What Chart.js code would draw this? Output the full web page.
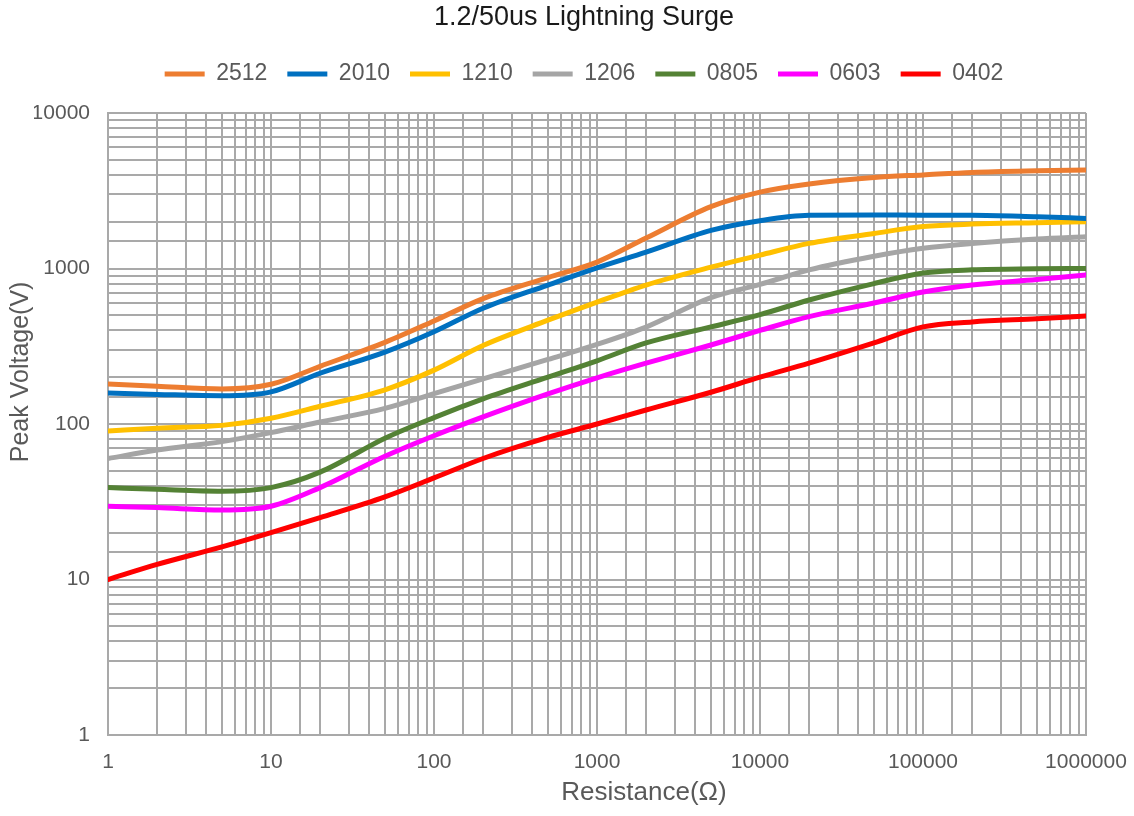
<!DOCTYPE html>
<html><head><meta charset="utf-8">
<script src="https://cdn.jsdelivr.net/npm/chart.js@4.4.1/dist/chart.umd.min.js"></script>
<style>html,body{margin:0;padding:0;background:#fff}</style>
</head><body>
<canvas id="c" width="1134" height="816"></canvas>
<script>
const chartTitle = '1.2/50us Lightning Surge';
const xTitle = 'Resistance(Ω)';
const yTitle = 'Peak Voltage(V)';
const resistance = [1,2,5,10,20,50,100,200,500,1000,2000,5000,10000,20000,50000,100000,200000,500000,1000000];
const seriesNames = ['2512','2010','1210','1206','0805','0603','0402'];
const seriesColors = ['#ED7D31','#0070C0','#FFC000','#A5A5A5','#548235','#FF00FF','#FF0000'];
const v2512 = [181,175,168,180,235,335,460,640,875,1100,1570,2500,3100,3500,3850,4000,4150,4250,4300];
const v2010 = [158,155,152,161,212,290,392,555,783,1010,1275,1760,2030,2200,2210,2200,2200,2150,2100];
const v1210 = [90,94,98,109,130,166,222,320,465,608,783,1020,1220,1450,1680,1860,1930,1970,2000];
const v1206 = [60,68,77,88,103,126,157,195,260,325,420,650,790,980,1200,1350,1450,1550,1600];
const v0805 = [39,38,37,39,49,81,110,145,200,255,332,421,505,627,800,935,980,995,1000];
const v0603 = [29.6,29,28,29.6,39,62,84,111,156,198,246,322,400,490,600,706,783,850,910];
const v0402 = [10,12.5,16.2,20,25,34,45,60,82,100,123,160,200,246,332,421,453,475,495];
const xMin = 1, xMax = 1000000, yMin = 1, yMax = 10000;

const allValues = [v2512,v2010,v1210,v1206,v0805,v0603,v0402];
const FONT = "'Liberation Sans', Arial, sans-serif";
const GRID = '#a9a9a9';
const isPow10 = v => Math.abs(Math.log10(v) - Math.round(Math.log10(v))) < 1e-9;

const datasets = seriesNames.map((name, i) => ({
  label: name,
  data: resistance.map((x, j) => ({x: x, y: allValues[i][j]})),
  borderColor: seriesColors[i],
  backgroundColor: seriesColors[i],
  borderWidth: 5,
  borderCapStyle: 'round',
  pointRadius: 0,
  pointHoverRadius: 0,
  cubicInterpolationMode: 'monotone',
  fill: false,
  clip: 0
}));

new Chart(document.getElementById('c'), {
  type: 'line',
  data: { datasets },
  options: {
    responsive: false,
    animation: false,
    layout: { padding: { left: 34, right: 0, top: 0, bottom: 0 } },
    plugins: {
      title: {
        display: true, text: chartTitle, color: '#1a1a1a',
        font: { family: FONT, size: 27, weight: 'normal' },
        padding: { top: 1.8, bottom: 8.3 }
      },
      legend: {
        display: true, position: 'top',
        labels: {
          usePointStyle: true, pointStyle: 'line', pointStyleWidth: 40,
          color: '#595959', font: { family: FONT, size: 23 }, padding: 20
        }
      },
      tooltip: { enabled: false }
    },
    scales: {
      x: {
        type: 'logarithmic', min: xMin, max: xMax,
        grid: { color: GRID, lineWidth: 2, drawTicks: false },
        border: { color: GRID, width: 2 },
        ticks: {
          autoSkip: false, maxRotation: 0, padding: 15, color: '#595959',
          font: { family: FONT, size: 21 },
          callback: v => isPow10(v) ? String(v) : ''
        },
        title: {
          display: true, text: ' '.repeat(13) + xTitle, color: '#595959',
          font: { family: FONT, size: 26 }, padding: { top: 0, bottom: 8 }
        },
        afterFit: s => { s.height = 81; s.paddingLeft = 0; s.paddingRight = 48; }
      },
      gap: {
        type: 'linear', axis: 'x', position: 'top', display: true,
        grid: { display: false, drawTicks: false },
        border: { display: false },
        ticks: { display: false },
        afterFit: s => { s.height = 17.5; s.paddingLeft = 0; s.paddingRight = 0; }
      },
      y: {
        type: 'logarithmic', min: yMin, max: yMax,
        grid: { color: GRID, lineWidth: 2, drawTicks: false },
        border: { color: GRID, width: 2 },
        ticks: {
          autoSkip: false, padding: 18, color: '#595959',
          font: { family: FONT, size: 21 },
          callback: v => isPow10(v) ? String(v) : ''
        },
        title: {
          display: true, text: ' '.repeat(15) + yTitle, color: '#595959',
          font: { family: FONT, size: 25 }, padding: { top: -28, bottom: 0 }
        },
        afterFit: s => { s.width = 74; s.paddingTop = 0; s.paddingBottom = 0; }
      }
    }
  }
});
</script>
</body></html>
